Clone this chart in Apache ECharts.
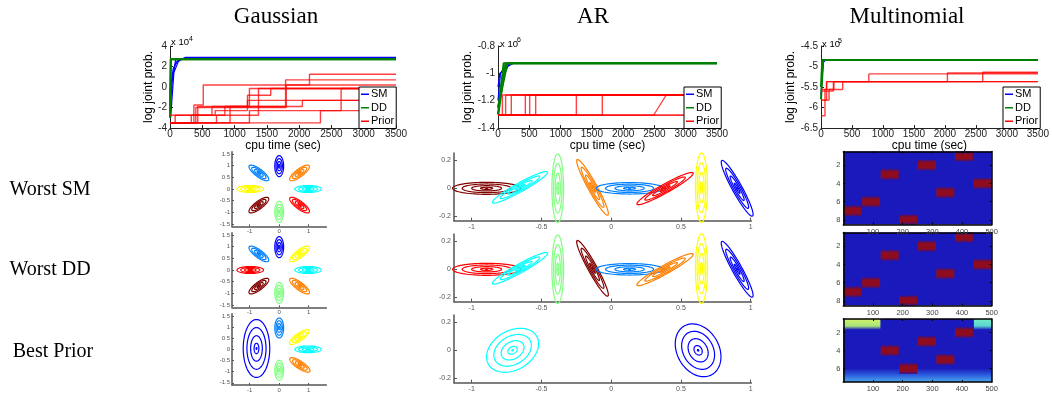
<!DOCTYPE html>
<html>
<head>
<meta charset="utf-8">
<script src="https://cdn.jsdelivr.net/npm/echarts@6/dist/echarts.min.js"></script>
<style>
  html, body { margin: 0; padding: 0; background: #fff; }
  #chart { width: 1052px; height: 393px; }
</style>
</head>
<body>
<div id="chart"></div>
<script>
// ---------- top row: log joint prob. vs cpu time ----------
// Gaussian (x 1e4)
const gaussSM = [
  [[0, -1.5], [40, 1.0], [80, 2.2], [150, 2.75], [3500, 2.75]],
  [[0, -0.5], [50, 1.8], [110, 2.5], [240, 2.9], [3500, 2.9]],
  [[0, -2.5], [30, 0.5], [90, 2.75], [3500, 2.75]],
  [[10, -3.0], [60, 1.4], [130, 2.5], [200, 2.75], [3500, 2.75]]
];
const gaussDD = [
  [[0, -2.0], [15, 2.7], [3500, 2.7]],
  [[0, -3.0], [10, 2.7], [3500, 2.7]]
];
const gaussPrior = [
  [[0, -3.5], [2330, -2.3], [3500, -2.3]],
  [[0, -3.5], [80, -2.75], [700, -2.3], [1200, -1.3], [3500, -1.3]],
  [[0, -3.5], [330, -2.75], [850, -1.9], [2050, -1.3], [3500, -1.3]],
  [[0, -3.5], [720, -2.75], [1370, -0.15], [3500, -0.15]],
  [[0, -3.5], [430, -1.9], [1200, -0.8], [1560, -0.15], [3500, -0.15]],
  [[0, -3.5], [370, -1.75], [515, 0.2], [3500, 0.2]],
  [[0, -3.5], [400, -2.0], [1800, 0.2], [2160, 1.25], [3500, 1.25]],
  [[0, -2.75], [650, -1.9], [1790, 0.7], [3500, 0.7]],
  [[0, -3.5], [930, -1.9], [1230, -0.15], [3500, -0.15]],
  [[0, -3.5], [1230, -2.3], [2650, -0.15], [3500, -0.15]]
];
// AR (x 1e6)
const arSM = [
  [[0, -1.2], [40, -1.0], [100, -0.96], [200, -0.926], [3500, -0.926]],
  [[0, -1.1], [30, -1.0], [150, -0.95], [250, -0.926], [3500, -0.926]],
  [[0, -1.25], [60, -1.05], [180, -0.926], [3500, -0.926]]
];
const arDD = [
  [[0, -1.3], [90, -0.926], [3500, -0.926]],
  [[0, -1.25], [150, -0.926], [3500, -0.926]],
  [[5, -1.3], [120, -0.926], [3500, -0.926]]
];
const arJumpTimes = [70, 122, 213, 437, 506, 602, 1252, 1667];
const arLow = -1.306;
const arHigh = -1.158;
const arSlant = [[0, -1.306], [2488, -1.306], [2690, -1.158], [3500, -1.158]];
// Multinomial (x 1e5)
const multiSM = [
  [[0, -5.7], [20, -5.2], [40, -4.9], [70, -4.84], [3500, -4.84]]
];
const multiDD = [
  [[0, -5.5], [20, -4.84], [3500, -4.84]],
  [[0, -5.8], [35, -4.84], [3500, -4.84]]
];
const multiPrior = [
  [[0, -6.2], [64, -5.56], [208, -5.37], [3500, -5.37]],
  [[0, -5.82], [90, -5.37], [772, -5.18], [3500, -5.18]],
  [[0, -5.82], [130, -5.56], [350, -5.37], [3500, -5.37]],
  [[0, -5.56], [90, -5.37], [2040, -5.16], [3500, -5.16]],
  [[0, -5.6], [200, -5.37], [2610, -5.14], [3500, -5.14]]
];

// ---------- contour panels: [cx, cy, semiMajor, semiMinor, angleDeg] ----------
const contourScales = [1, 0.72, 0.44, 0.18, 0.03];
const gaussClusters = [
  [0, 0.98, 0.45, 0.15, 90], [0.69, 0.69, 0.45, 0.15, 45], [0.98, 0, 0.45, 0.15, 0],
  [0.69, -0.69, 0.45, 0.15, -45], [0, -0.98, 0.45, 0.15, 90], [-0.69, -0.69, 0.45, 0.15, 45],
  [-0.98, 0, 0.45, 0.15, 0], [-0.69, 0.69, 0.45, 0.15, -45]
];
const gaussColorsSM = ['#0000ff', '#ff8000', '#00ffff', '#ff0000', '#80ff80', '#800000', '#ffff00', '#0080ff'];
const gaussColorsDD = ['#0000ff', '#ffff00', '#00ffff', '#ff8000', '#80ff80', '#800000', '#ff0000', '#0080ff'];
const gaussClustersPrior = [
  [-0.77, 0.04, 1.3, 0.45, 90], [0, 0.96, 0.45, 0.15, 90], [0.68, 0.55, 0.45, 0.15, 45],
  [0.98, 0, 0.45, 0.15, 0], [0.7, -0.7, 0.45, 0.15, -43], [0, -0.94, 0.45, 0.15, 90]
];
const gaussColorsPrior = ['#0000ff', '#0080ff', '#ffff00', '#00ffff', '#ff8000', '#80ff80'];

const arClusters = [
  [-0.893, 0, 0.244, 0.043, 0], [-0.654, 0.007, 0.225, 0.032, 29], [-0.383, 0, 0.245, 0.042, 90],
  [-0.134, 0.007, 0.227, 0.032, -61], [0.132, 0, 0.24, 0.041, 0], [0.386, -0.002, 0.23, 0.032, 29],
  [0.647, 0.005, 0.248, 0.043, 90], [0.903, 0, 0.227, 0.035, -61]
];
const arColorsSM = ['#800000', '#00ffff', '#80ff80', '#ff8000', '#0080ff', '#ff0000', '#ffff00', '#0000ff'];
const arColorsDD = ['#ff0000', '#00ffff', '#80ff80', '#800000', '#0080ff', '#ff8000', '#ffff00', '#0000ff'];
const arClustersPrior = [[-0.707, 0, 0.2, 0.14, 30], [0.623, 0, 0.2, 0.15, -60]];
const arColorsPrior = ['#00ffff', '#0000ff'];

// ---------- multinomial images ----------
const multiEdges = [0, 62.5, 125, 187.5, 250, 312.5, 375, 437.5, 500];
const multiRowsSM = [7, 6, 3, 8, 2, 5, 1, 4];
const multiRowsDD = [7, 6, 3, 8, 2, 5, 1, 4];
const multiRowsPrior = [0, 0, 4, 6, 3, 5, 2, 0];
const multiPriorPatches = [[0, 125, 0.5, 1.7, 2], [440, 500, 0.5, 1.7, 3], [0, 500, 6.0, 7.5, 4]];

const FONT = '"Liberation Sans", Arial, sans-serif';
const SERIF = '"Liberation Serif", "Times New Roman", serif';

const grids = [], xAxes = [], yAxes = [], series = [];

function mkAxis(gi, min, max, o) {
  o = o || {};
  return {
    gridIndex: gi, type: 'value', min: min, max: max, interval: o.interval,
    inverse: !!o.inverse, position: o.position, z: o.z || 0,
    name: o.name || '', nameLocation: 'middle', nameGap: o.nameGap || 0, nameRotate: o.nameRotate,
    nameTextStyle: { fontFamily: FONT, fontSize: 12, color: '#000' },
    axisLine: { show: true, onZero: false, lineStyle: { color: o.lineColor || '#222', width: o.lineWidth || 1 } },
    axisTick: { show: o.ticks !== false, inside: true, length: o.tickLen || 3, customValues: o.values,
      lineStyle: { color: o.lineColor || '#222' } },
    axisLabel: { show: o.labels !== false, customValues: o.values, color: o.labelColor || '#222',
      fontSize: o.fontSize || 10, fontFamily: FONT, margin: o.margin || 3,
      showMinLabel: true, showMaxLabel: true, hideOverlap: false,
      formatter: function (v) { return String(Math.round(v * 1000) / 1000); } },
    splitLine: { show: false }
  };
}

function lineSeries(gi, name, data, color, width, opacity, step) {
  series.push({
    type: 'line', name: name, xAxisIndex: gi, yAxisIndex: gi, data: data,
    step: step ? 'end' : false, symbol: 'none', silent: true, animation: false,
    lineStyle: { color: color, width: width, opacity: opacity }, itemStyle: { color: color }
  });
}

// top charts
const topDefs = [
  { left: 170, width: 226, min: -4, max: 4, interval: 2, gap: 14, sm: gaussSM, dd: gaussDD, prior: gaussPrior },
  { left: 498, width: 219, min: -1.4, max: -0.8, interval: 0.2, gap: 20, sm: arSM, dd: arDD,
    prior: arJumpTimes.map(function (t) { return [[0, arLow], [t, arHigh], [3500, arHigh]]; })
      .concat([[[0, arLow], [3500, arLow]], [[0, arLow], [3500, arLow]]]) },
  { left: 821, width: 219, min: -6.5, max: -4.5, interval: 0.5, gap: 22, sm: multiSM, dd: multiDD, prior: multiPrior }
];
topDefs.forEach(function (d) {
  grids.push({ left: d.left, top: 46, width: d.width, height: 82 });
  const gi = grids.length - 1;
  xAxes.push(mkAxis(gi, 0, 3500, { interval: 500, name: 'cpu time (sec)', nameGap: 5, margin: 1 }));
  yAxes.push(mkAxis(gi, d.min, d.max, { interval: d.interval, name: 'log joint prob.', nameGap: d.gap, nameRotate: 90 }));
  d.sm.forEach(function (l) { lineSeries(gi, 'SM', l, '#0000ff', 1.2, 1, false); });
  d.dd.forEach(function (l) { lineSeries(gi, 'DD', l, '#008000', 2, 1, false); });
  d.prior.forEach(function (l) { lineSeries(gi, 'Prior', l, '#ff0000', 1.4, 0.75, true); });
});
// slanted AR prior trace
lineSeries(1, 'Prior', arSlant, '#ff0000', 1.2, 0.75, false);

function ellipseRender(colors) {
  return function (params, api) {
    const cx = api.value(0), cy = api.value(1), a = api.value(2), b = api.value(3);
    const th = api.value(4) * Math.PI / 180;
    const children = contourScales.map(function (s) {
      const pts = [];
      for (let i = 0; i <= 72; i++) {
        const p = i / 72 * 2 * Math.PI;
        const ex = s * a * Math.cos(p), ey = s * b * Math.sin(p);
        pts.push(api.coord([cx + ex * Math.cos(th) - ey * Math.sin(th), cy + ex * Math.sin(th) + ey * Math.cos(th)]));
      }
      return { type: 'polyline', shape: { points: pts }, style: { stroke: colors[params.dataIndex], fill: 'none', lineWidth: 1.2 } };
    });
    return { type: 'group', children: children };
  };
}

function heatFill(k) {
  const G = echarts.graphic.LinearGradient;
  if (k === 1) return new G(0, 0, 0, 1, [{ offset: 0, color: '#3a1288' }, { offset: 0.28, color: '#8e0c1e' },
    { offset: 0.72, color: '#8e0c1e' }, { offset: 1, color: '#3a1288' }]);
  if (k === 2) return new G(0, 0, 0, 1, [{ offset: 0, color: '#d2f26a' }, { offset: 0.65, color: '#a8e47a' }, { offset: 1, color: '#1a1abc' }]);
  if (k === 3) return new G(0, 0, 0, 1, [{ offset: 0, color: '#74ecc8' }, { offset: 0.65, color: '#5ad4d2' }, { offset: 1, color: '#1a1abc' }]);
  if (k === 4) return new G(0, 0, 0, 1, [{ offset: 0, color: '#1a1abc' }, { offset: 0.45, color: '#2a58dc' }, { offset: 1, color: '#4aa8f0' }]);
  return '#1a1abc';
}

function heatRender(params, api) {
  const p0 = api.coord([api.value(0), api.value(2)]);
  const p1 = api.coord([api.value(1), api.value(3)]);
  return {
    type: 'rect',
    shape: { x: Math.min(p0[0], p1[0]), y: Math.min(p0[1], p1[1]), width: Math.abs(p1[0] - p0[0]), height: Math.abs(p1[1] - p0[1]) },
    style: { fill: heatFill(api.value(4)) }
  };
}

function heatCells(rows, nRows, patches) {
  const cells = [[0, 500, 0.5, nRows + 0.5, 0]];
  (patches || []).forEach(function (p) { cells.push(p); });
  rows.forEach(function (r, i) {
    if (!r) return;
    cells.push([multiEdges[i] + 1, multiEdges[i + 1] - 1, Math.max(0.5, r - 0.6), Math.min(nRows + 0.5, r + 0.6), 1]);
  });
  return cells;
}

const rowZero = [189, 270, 351];
const gaussPanels = [[gaussClusters, gaussColorsSM], [gaussClusters, gaussColorsDD], [gaussClustersPrior, gaussColorsPrior]];
const arPanels = [[arClusters, arColorsSM], [arClusters, arColorsDD], [arClustersPrior, arColorsPrior]];
const heatPanels = [
  { top: 151.5, height: 73, n: 8, cells: heatCells(multiRowsSM, 8), ticks: [2, 4, 6, 8] },
  { top: 232.5, height: 73, n: 8, cells: heatCells(multiRowsDD, 8), ticks: [2, 4, 6, 8] },
  { top: 319, height: 64, n: 7, cells: heatCells(multiRowsPrior, 7, multiPriorPatches), ticks: [2, 4, 6] }
];
const frameAxes = [];

for (let r = 0; r < 3; r++) {
  // Gaussian contour panel
  grids.push({ left: 232, top: rowZero[r] - 37.3, width: 94.4, height: 74.6 });
  let gi = grids.length - 1;
  const cOpt = { lineColor: '#555', lineWidth: 1.5, labelColor: '#555', fontSize: 6, tickLen: 2, margin: 2 };
  xAxes.push(mkAxis(gi, -1.6, 1.6, Object.assign({ values: [-1, 0, 1] }, cOpt)));
  yAxes.push(mkAxis(gi, -1.6, 1.6, Object.assign({ values: [-1.5, -1, -0.5, 0, 0.5, 1, 1.5] }, cOpt)));
  series.push({ type: 'custom', xAxisIndex: gi, yAxisIndex: gi, silent: true, animation: false,
    renderItem: ellipseRender(gaussPanels[r][1]), data: gaussPanels[r][0] });

  // AR contour panel
  grids.push({ left: 454, top: rowZero[r] - 0.7 - 0.253 * 140, width: 297.4, height: 0.484 * 140 });
  gi = grids.length - 1;
  const aOpt = { lineColor: '#555', lineWidth: 1.5, labelColor: '#555', fontSize: 7, tickLen: 3, margin: 3 };
  xAxes.push(mkAxis(gi, -1.127, 1.005, Object.assign({ values: [-1, -0.5, 0, 0.5, 1] }, aOpt)));
  yAxes.push(mkAxis(gi, -0.231, 0.253, Object.assign({ values: [-0.2, 0, 0.2] }, aOpt)));
  series.push({ type: 'custom', xAxisIndex: gi, yAxisIndex: gi, silent: true, animation: false,
    renderItem: ellipseRender(arPanels[r][1]), data: arPanels[r][0] });

  // Multinomial image panel
  const h = heatPanels[r];
  grids.push({ left: 843.3, top: h.top, width: 148.4, height: h.height });
  gi = grids.length - 1;
  const hOpt = { lineColor: '#000', lineWidth: 1.5, labelColor: '#444', fontSize: 7.5, tickLen: 2, margin: 3, z: 5 };
  xAxes.push(mkAxis(gi, 0, 500, Object.assign({ values: [100, 200, 300, 400, 500] }, hOpt)));
  yAxes.push(mkAxis(gi, 0.5, h.n + 0.5, Object.assign({ values: h.ticks, inverse: true }, hOpt)));
  frameAxes.push({ gi: gi, n: h.n, ticks: h.ticks });
  series.push({ type: 'custom', xAxisIndex: gi, yAxisIndex: gi, silent: true, animation: false, z: 1,
    renderItem: heatRender, data: h.cells });
}
// top/right frame lines for the images
frameAxes.forEach(function (f) {
  const fOpt = { lineColor: '#000', lineWidth: 1.5, labels: false, tickLen: 2, z: 5 };
  xAxes.push(mkAxis(f.gi, 0, 500, Object.assign({ values: [100, 200, 300, 400, 500], position: 'top' }, fOpt)));
  yAxes.push(mkAxis(f.gi, 0.5, f.n + 0.5, Object.assign({ values: f.ticks, inverse: true, position: 'right' }, fOpt)));
});

function txt(x, y, s, font, align) {
  return { type: 'text', x: x, y: y, silent: true, z: 10,
    style: { text: s, font: font, fill: '#000', align: align || 'center', verticalAlign: 'middle' } };
}
const graphics = [
  txt(276, 17, 'Gaussian', '23px ' + SERIF), txt(593, 17, 'AR', '23px ' + SERIF), txt(907, 17, 'Multinomial', '23px ' + SERIF),
  txt(50, 190, 'Worst SM', '20px ' + SERIF), txt(50, 270, 'Worst DD', '20px ' + SERIF), txt(53, 352, 'Best Prior', '20px ' + SERIF),
  txt(171, 42.7, 'x 10', '9.5px ' + FONT, 'left'), txt(189, 39, '4', '7px ' + FONT, 'left'),
  txt(500, 44, 'x 10', '9.5px ' + FONT, 'left'), txt(517, 40.5, '6', '7px ' + FONT, 'left'),
  txt(822, 44.5, 'x 10', '9.5px ' + FONT, 'left'), txt(838, 41, '5', '7px ' + FONT, 'left')
];

function legendAt(left) {
  return {
    left: left, top: 87, orient: 'vertical', data: ['SM', 'DD', 'Prior'], selectedMode: false, z: 20,
    backgroundColor: '#fff', borderColor: '#000', borderWidth: 1, padding: [1, 2, 1, 2],
    itemGap: 1, itemWidth: 8, itemHeight: 1.5, icon: 'rect',
    textStyle: { fontFamily: FONT, fontSize: 11, color: '#000', padding: [0, 0, 0, -3], lineHeight: 12.5 }
  };
}

const chart = echarts.init(document.getElementById('chart'));
chart.setOption({
  backgroundColor: '#fff',
  animation: false,
  textStyle: { fontFamily: FONT },
  grid: grids,
  xAxis: xAxes,
  yAxis: yAxes,
  legend: [legendAt(359), legendAt(684), legendAt(1003)],
  graphic: graphics,
  series: series
});
</script>
</body>
</html>
